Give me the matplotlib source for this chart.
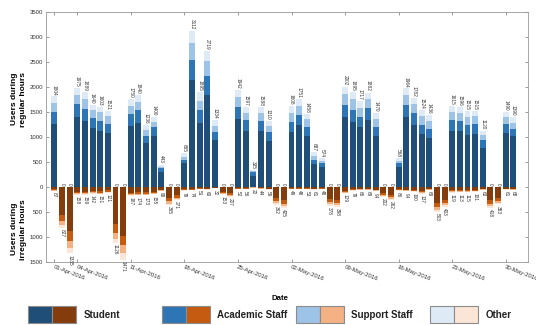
import numpy as np
import matplotlib
matplotlib.use('Agg')
import matplotlib.pyplot as plt
import matplotlib.dates as mdates
from matplotlib.patches import Rectangle

plt.rcParams['font.family'] = ['Liberation Sans', 'DejaVu Sans']

# one bar pair per day, 01-Apr-2016 .. 31-May-2016
days = np.arange(np.datetime64('2016-04-01'), np.datetime64('2016-06-01'))

# users during regular hours
reg_student = [1260, 0, 0, 1400, 1320, 1167, 1120, 1067, 0, 0,
               1220, 1268, 880, 1013, 300, 0, 0,
               465, 2133, 1280, 1825, 925, 0, 0,
               1350, 1115, 220, 1113, 920, 0, 0,
               1095, 1228, 1005, 460, 400, 0, 0,
               1390, 1300, 1193, 1340, 1005, 0, 0,
               387, 1389, 1235, 1058, 979, 0, 0,
               1120, 1110, 1030, 1063, 780, 0, 0,
               1074, 1015]
reg_academic = [230, 0, 0, 250, 233, 213, 200, 187, 0, 0,
                233, 260, 140, 173, 65, 0, 0,
                67, 400, 245, 398, 165, 0, 0,
                245, 210, 65, 200, 170, 0, 0,
                203, 200, 190, 82, 70, 0, 0,
                237, 241, 210, 231, 192, 0, 0,
                80, 245, 238, 175, 176, 0, 0,
                218, 200, 199, 186, 150, 0, 0,
                172, 140]
reg_support = [175, 0, 0, 180, 200, 153, 180, 160, 0, 0,
               160, 175, 110, 113, 35, 0, 0,
               53, 333, 195, 298, 133, 0, 0,
               200, 157, 30, 168, 125, 0, 0,
               175, 192, 150, 65, 52, 0, 0,
               225, 214, 170, 191, 157, 0, 0,
               47, 198, 178, 175, 163, 0, 0,
               165, 166, 166, 166, 110, 0, 0,
               146, 115]
reg_other = [139, 0, 0, 145, 136, 107, 103, 107, 0, 0,
             137, 137, 106, 101, 43, 0, 0,
             80, 246, 175, 198, 111, 0, 0,
             147, 115, 20, 107, 95, 0, 0,
             135, 131, 113, 80, 52, 0, 0,
             150, 140, 144, 120, 116, 0, 0,
             54, 132, 131, 116, 118, 0, 0,
             112, 120, 120, 100, 80, 0, 0,
             98, 120]

# users during irregular hours
irr_student = [55, 570, 890, 100, 100, 90, 95, 76, 750, 990,
               118, 110, 109, 98, 57, 235, 170,
               50, 47, 32, 38, 20, 100, 135,
               33, 35, 13, 28, 37, 235, 275,
               31, 30, 33, 38, 30, 245, 260,
               81, 50, 42, 43, 59, 130, 170,
               50, 59, 63, 86, 43, 330, 262,
               75, 71, 72, 64, 40, 272, 230,
               38, 43]
irr_academic = [15, 115, 205, 27, 27, 24, 26, 21, 170, 172,
                32, 30, 29, 26, 15, 58, 47,
                13, 12, 9, 10, 6, 25, 35,
                9, 10, 3, 7, 10, 60, 70,
                8, 8, 9, 11, 8, 63, 65,
                22, 13, 11, 12, 16, 35, 44,
                14, 16, 17, 23, 12, 82, 67,
                20, 19, 20, 17, 11, 70, 59,
                11, 12]
irr_support = [10, 87, 137, 19, 19, 17, 18, 15, 117, 172,
               22, 20, 21, 19, 11, 44, 32,
               10, 9, 6, 7, 4, 17, 22,
               6, 7, 2, 5, 7, 40, 48,
               6, 6, 7, 7, 6, 42, 44,
               16, 10, 8, 8, 11, 22, 29,
               10, 11, 12, 17, 8, 55, 44,
               14, 14, 14, 12, 7, 46, 39,
               7, 8]
irr_other = [7, 55, 103, 12, 13, 11, 12, 9, 89, 137,
             15, 14, 14, 12, 7, 28, 22,
             6, 6, 4, 5, 2, 11, 15,
             4, 4, 2, 4, 5, 27, 32,
             4, 4, 4, 5, 4, 28, 29,
             10, 6, 5, 6, 8, 15, 19,
             6, 8, 8, 11, 6, 36, 30,
             10, 9, 9, 8, 5, 30, 25,
             5, 5]

groups = ['Student', 'Academic Staff', 'Support Staff', 'Other']
blues = ['#1F4E79', '#2E75B6', '#9DC3E6', '#DEEBF7']
browns = ['#843C0C', '#C55A11', '#F4B183', '#FBE5D6']
tick_days = ['2016-04-01', '2016-04-04', '2016-04-11', '2016-04-18', '2016-04-25',
             '2016-05-02', '2016-05-09', '2016-05-16', '2016-05-23', '2016-05-30']

x = mdates.date2num(days.astype('datetime64[D]').astype(object))
regular = np.array([reg_student, reg_academic, reg_support, reg_other])
irregular = np.array([irr_student, irr_academic, irr_support, irr_other])

fig = plt.figure(figsize=(5.36, 3.25), dpi=100)
ax = fig.add_axes([0.0853, 0.1948, 0.8997, 0.7692])

bw = 0.78
bottom = np.zeros(len(x))
for vals, c in zip(regular, blues):
    ax.bar(x, vals, bw, bottom=bottom, color=c, lw=0)
    bottom += vals
bottom = np.zeros(len(x))
for vals, c in zip(irregular, browns):
    ax.bar(x, -vals, bw, bottom=-bottom, color=c, lw=0)
    bottom += vals

for xi, up, lo in zip(x, regular.sum(axis=0), irregular.sum(axis=0)):
    ax.text(xi, up + 25, f'{up:d}', rotation=-90, ha='center', va='bottom',
            fontsize=3.4, color='#333333')
    ax.text(xi, -lo - 25, f'{lo:d}', rotation=-90, ha='center', va='top',
            fontsize=3.4, color='#333333')

ax.set_ylim(-1500, 3500)
yt = np.arange(-1500, 3501, 500)
ax.set_yticks(yt)
ax.set_yticklabels([str(abs(v)) for v in yt])
ticks = mdates.date2num([np.datetime64(d).astype(object) for d in tick_days])
ax.set_xticks(ticks)
ax.set_xticklabels([np.datetime64(d).astype(object).strftime('%d-%b-%Y') for d in tick_days],
                   rotation=-21, ha='left', va='top', rotation_mode='anchor')
ax.set_xlim(x[0] - 1.12, ticks[-1] + 2.9)

ax.tick_params(direction='in', length=2.2, width=0.6, color='#8c8c8c',
               labelsize=4.3, labelcolor='#333333', top=True, right=True, pad=2)
for s in ax.spines.values():
    s.set_color('#999999')
    s.set_linewidth(0.6)

tr = matplotlib.transforms.blended_transform_factory(ax.transAxes, ax.transData)
ax.text(-0.055, 1750, 'Users during\nregular hours', transform=tr, rotation=90,
        ha='center', va='center', fontsize=6, fontweight='bold', linespacing=1.3)
ax.text(-0.055, -850, 'Users during\nirregular hours', transform=tr, rotation=90,
        ha='center', va='center', fontsize=6, fontweight='bold', linespacing=1.3)
fig.text(280 / 536, 1 - 298.5 / 325, 'Date', ha='center', va='center',
         fontsize=5.6, fontweight='bold')

# legend: a blue/brown pair of boxes per group
lax = fig.add_axes([0, 0, 1, 25 / 325])
lax.set_xlim(0, 536)
lax.set_ylim(325, 300)
lax.axis('off')
for i, (name, cb, cr) in enumerate(zip(groups, blues, browns)):
    x0 = 28.3 + 134 * i
    lax.add_patch(Rectangle((x0, 306), 24, 16.5, fc=cb, ec='#8c8c8c', lw=0.8))
    lax.add_patch(Rectangle((x0 + 24, 306), 24, 16.5, fc=cr, ec='#8c8c8c', lw=0.8))
    lax.text(x0 + 55, 314.5, name, ha='left', va='center', fontsize=7,
             fontweight='bold', color='#222222')

fig.savefig('out.png', dpi=100)
